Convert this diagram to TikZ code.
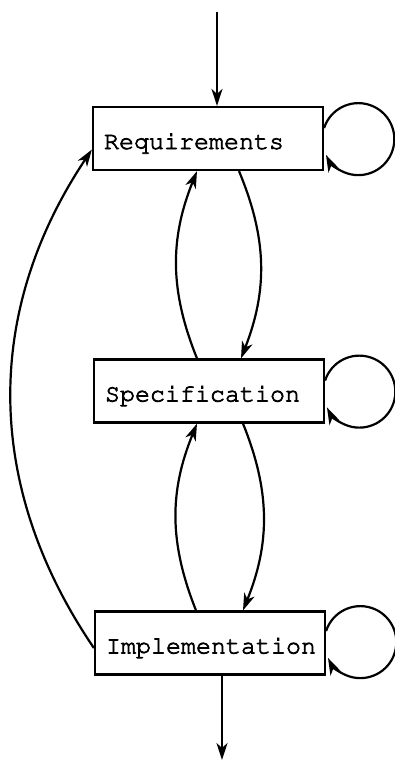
\documentclass[tikz,border=0pt]{standalone}
\usepackage[T1]{fontenc}
\usepackage{courier}
\usetikzlibrary{arrows.meta}
\newcommand{\heavytext}[1]{\special{pdf:code 2 Tr 0.7 w}#1\special{pdf:code 0 Tr}}
\begin{document}
\begin{tikzpicture}[x=1pt,y=1pt,
  phase/.style={draw, line width=2.2pt, minimum height=63pt, text width=208pt, inner xsep=11pt, inner ysep=0pt,
    text height=42pt, text depth=21pt, align=left,
    font=\fontfamily{pcr}\fontsize{25}{30}\selectfont},
  conn/.style={line width=2.2pt, -{Stealth[length=17pt,width=11pt,inset=5pt]}}]
\useasboundingbox (0,0) rectangle (395,-764);
\node[phase] (req) at (208,-138.5) {\heavytext{Requirements}};
\node[phase] (spec) at (209,-391) {\heavytext{Specification}};
\node[phase] (impl) at (210,-643) {\heavytext{Implementation}};
\coordinate (top) at (217,-12);
\coordinate (bot) at (222,-760);
\draw[conn] (top) -- (top |- req.north);
\draw[conn] (bot |- impl.south) -- (bot);
% self loops
\draw[conn] ([yshift=10.5pt]req.east) arc[start angle=162, end angle=-154, radius=36];
\draw[conn] ([yshift=10.5pt]spec.east) arc[start angle=162, end angle=-154, radius=36];
\draw[conn] ([yshift=12pt]impl.east) arc[start angle=162, end angle=-154, radius=36];
% between req and spec
\draw[conn] ([xshift=-12pt]spec.north) to[bend left=22] ([xshift=-11pt]req.south);
\draw[conn] ([xshift=31pt]req.south) to[bend left=22] ([xshift=32pt]spec.north);
% between spec and impl
\draw[conn] ([xshift=-14pt]impl.north) to[bend left=22] ([xshift=-12pt]spec.south);
\draw[conn] ([xshift=34pt]spec.south) to[bend left=22] ([xshift=33pt]impl.north);
% long return
\draw[conn] ([yshift=-5pt]impl.west) to[bend left=34] ([yshift=-11pt]req.west);
\end{tikzpicture}
\end{document}
